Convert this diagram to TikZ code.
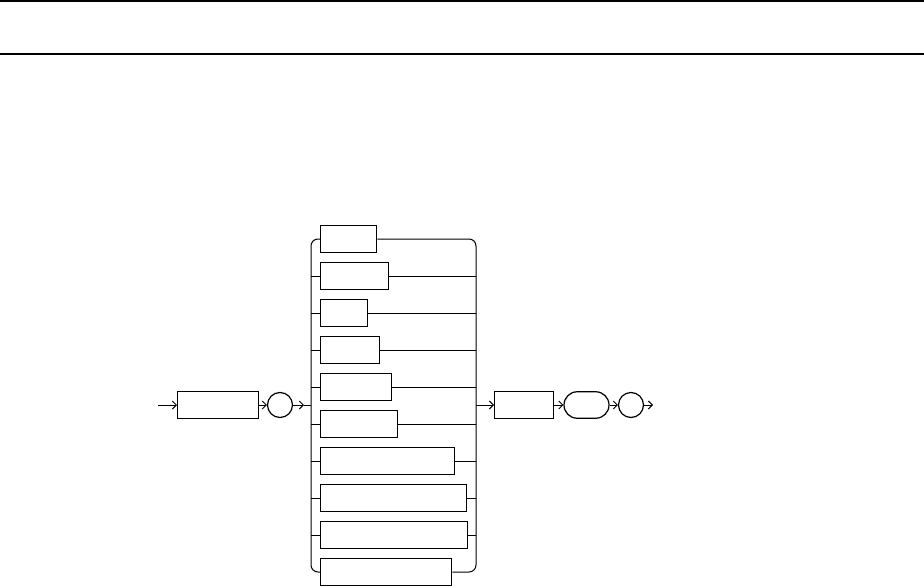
\documentclass[tikz,border=0pt]{standalone}
\usetikzlibrary{arrows.meta,shapes.misc}
\begin{document}
\begin{tikzpicture}[x=1pt,y=-1pt,
  line width=1pt,
  arr/.style={-{Straight Barb[length=4pt,width=8pt,line width=0.9pt]}},
  sbox/.style={draw,rectangle,line width=1.3pt,inner sep=0pt,minimum height=26.5pt,anchor=west},
  circ/.style={draw,circle,line width=1.2pt,inner sep=0pt,minimum size=25pt},
  stad/.style={draw,rounded rectangle,line width=1.2pt,inner sep=0pt,minimum height=26.5pt,minimum width=45pt}]
\useasboundingbox (0,0) rectangle (924,586);
% header rules
\coordinate (r1l) at (0,1);   \coordinate (r1r) at (924,1);
\coordinate (r2l) at (0,54);  \coordinate (r2r) at (924,54);
\draw[line width=1.3pt] (r1l) -- (r1r);
\draw[line width=1.3pt] (r2l) -- (r2r);
% main line nodes
\coordinate (start) at (158,405);
\node[sbox,minimum width=81pt] (a) at (177,405) {};
\node[circ] (c1) at (280,405) {};
\coordinate (m1) at (304,405);
\coordinate (jl) at (311,405);
\coordinate (jr) at (476,405);
\node[sbox,minimum width=59pt] (d) at (494,405) {};
\node[stad] (e) at (586.5,405) {};
\node[circ] (c2) at (631,405) {};
\coordinate (stop) at (653,405);
% choice boxes
\node[sbox,minimum width=56pt]  (b1)  at (320,239) {};
\node[sbox,minimum width=68pt]  (b2)  at (320,276) {};
\node[sbox,minimum width=47pt]  (b3)  at (320,313) {};
\node[sbox,minimum width=59pt]  (b4)  at (320,350) {};
\node[sbox,minimum width=71pt]  (b5)  at (320,387) {};
\node[sbox,minimum width=77pt]  (b6)  at (320,424) {};
\node[sbox,minimum width=134pt] (b7)  at (320,461) {};
\node[sbox,minimum width=146pt] (b8)  at (320,498) {};
\node[sbox,minimum width=147pt] (b9)  at (320,535) {};
\node[sbox,minimum width=131pt] (b10) at (320,572) {};
% main connectors
\draw[arr] (start) -- (a.west);
\draw[arr] (a.east) -- (c1.west);
\draw[arr] (c1.east) -- (m1);
\draw (m1) -- (jl);
\draw[arr] (jr) -- (d.west);
\draw[arr] (d.east) -- (e.west);
\draw[arr] (e.east) -- (c2.west);
\draw[arr] (c2.east) -- (stop);
% rails
\draw[rounded corners=7pt] (b1.west) -| (jl) |- (b10.west);
\draw[rounded corners=7pt] (b1.east) -| (jr) |- (b10.east);
% branches
\foreach \b in {b2,b3,b4,b5,b6,b7,b8,b9}{
  \draw (\b.west) -- (\b.west -| jl);
  \draw (\b.east) -- (\b.east -| jr);
}
\end{tikzpicture}
\end{document}
